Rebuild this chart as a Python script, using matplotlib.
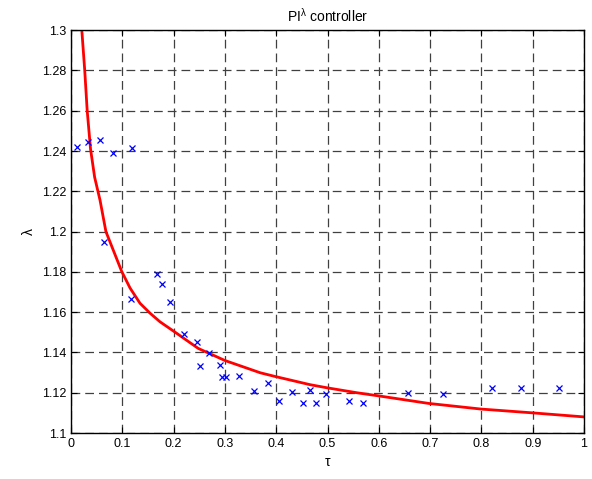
import matplotlib.pyplot as plt
from matplotlib import rcParams

rcParams['font.family'] = ['Liberation Sans', 'DejaVu Sans']
rcParams['mathtext.fontset'] = 'custom'
rcParams['mathtext.rm'] = 'Liberation Sans'
rcParams['mathtext.it'] = 'Liberation Sans'

# measured points
tau_pts = [0.012, 0.034, 0.057, 0.082, 0.119, 0.064, 0.117, 0.168, 0.177, 0.192,
           0.220, 0.246, 0.269, 0.251, 0.291, 0.294, 0.302, 0.327, 0.357, 0.384,
           0.405, 0.431, 0.452, 0.465, 0.477, 0.498, 0.541, 0.569, 0.656, 0.725,
           0.820, 0.877, 0.951]
lam_pts = [1.2421, 1.2446, 1.2456, 1.2391, 1.2416, 1.1946, 1.1665, 1.1789, 1.1741, 1.1649,
           1.1490, 1.1453, 1.1396, 1.1331, 1.1336, 1.1278, 1.1278, 1.1284, 1.1208, 1.1250,
           1.1160, 1.1202, 1.1149, 1.1213, 1.1150, 1.1195, 1.1160, 1.1150, 1.1197, 1.1194,
           1.1223, 1.1223, 1.1223]

# fitted curve
tau_fit = [0.021, 0.0267, 0.0315, 0.038, 0.046, 0.0565, 0.068, 0.0988, 0.115, 0.1345,
           0.154, 0.1735, 0.206, 0.2255, 0.248, 0.300, 0.369, 0.399, 0.466, 0.498,
           0.557, 0.598, 0.697, 0.799, 0.900, 1.000]
lam_fit = [1.300, 1.280, 1.260, 1.241, 1.227, 1.2156, 1.200, 1.1802, 1.172, 1.1644,
           1.1595, 1.1552, 1.1495, 1.146, 1.142, 1.136, 1.1299, 1.128, 1.124, 1.1225,
           1.120, 1.1185, 1.1147, 1.1119, 1.110, 1.108]

fig = plt.figure(figsize=(5.92, 4.79), dpi=100)
ax = fig.add_axes([0.120, 0.096, 0.8665, 0.841])

ax.plot(tau_fit, lam_fit, color='red', linewidth=2)
ax.plot(tau_pts, lam_pts, linestyle='none', marker='x', color='blue',
        markersize=5, markeredgewidth=0.9)

ax.set_xlim(0, 1)
ax.set_ylim(1.1, 1.3)
ax.set_xticks([i / 10 for i in range(11)])
ax.set_xticklabels(['0', '0.1', '0.2', '0.3', '0.4', '0.5', '0.6', '0.7', '0.8', '0.9', '1'])
ax.set_yticks([1.1 + 0.02 * i for i in range(11)])
ax.set_yticklabels(['1.1', '1.12', '1.14', '1.16', '1.18', '1.2', '1.22', '1.24', '1.26', '1.28', '1.3'])
ax.tick_params(direction='in', top=True, right=True, labelsize=9, length=4)

ax.grid(True, color='#404040', linestyle=(0, (7, 4)), linewidth=0.9)
for s in ax.spines.values():
    s.set_linewidth(1)

ax.set_title(r'PI$^{\lambda}$ controller', fontsize=10)
ax.set_xlabel('τ', fontsize=10)
ax.set_ylabel('λ', fontsize=10)

fig.savefig('out.png', dpi=100)
